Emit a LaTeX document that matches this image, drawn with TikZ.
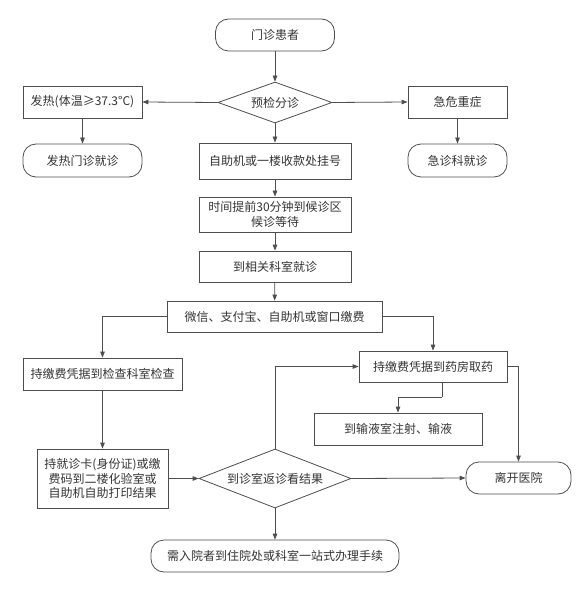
\documentclass[tikz,border=0pt]{standalone}
\usepackage{fontspec}
\setmainfont{Noto Sans CJK SC}
\usetikzlibrary{shapes.geometric,arrows.meta}
\definecolor{linec}{HTML}{4D4D4D}
\definecolor{textc}{HTML}{333333}
\begin{document}
\begin{tikzpicture}[x=1pt,y=-1pt,
  every node/.style={font=\fontsize{12}{14.5}\selectfont, text=textc},
  boxn/.style={draw=linec, line width=0.8pt, rectangle, inner sep=0pt, align=center},
  roundn/.style={boxn, rounded corners=13pt},
  diam/.style={draw=linec, line width=0.8pt, diamond, inner sep=0pt, align=center},
  conn/.style={draw=linec, line width=0.8pt, -{Triangle[length=6pt,width=4.5pt]}},
  plain/.style={draw=linec, line width=0.8pt}
]
\useasboundingbox (0,0) rectangle (586,593);
\node[roundn, minimum width=119, minimum height=32] (start) at (275,35) {门诊患者};
\node[diam, minimum width=114, minimum height=41, aspect=2.8] (triage) at (275,102.5) {预检分诊};
\node[boxn, minimum width=119, minimum height=32] (fever) at (82.5,102) {发热(体温≥37.3°C)};
\node[roundn, minimum width=119, minimum height=33] (feverclinic) at (82.5,160.5) {发热门诊就诊};
\node[boxn, minimum width=152, minimum height=36] (register) at (275,161) {自助机或一楼收款处挂号};
\node[boxn, minimum width=99, minimum height=32] (emerg) at (457.5,102) {急危重症};
\node[roundn, minimum width=99, minimum height=33] (emergclinic) at (457.5,160.5) {急诊科就诊};
\node[boxn, minimum width=152, minimum height=35] (wait) at (275,214.5) {时间提前30分钟到候诊区\\候诊等待};
\node[boxn, minimum width=152, minimum height=31] (dept) at (275,266.5) {到相关科室就诊};
\node[boxn, minimum width=215, minimum height=31] (pay) at (274.5,316.5) {微信、支付宝、自助机或窗口缴费};
\node[boxn, minimum width=159, minimum height=32] (exam) at (102.5,374) {持缴费凭据到检查科室检查};
\node[boxn, minimum width=148, minimum height=31] (pharm) at (433,366.5) {持缴费凭据到药房取药};
\node[boxn, minimum width=168, minimum height=32] (infuse) at (398,429) {到输液室注射、输液};
\node[roundn, minimum width=105, minimum height=32] (leave) at (518.5,478) {离开医院};
\node[diam, minimum width=152, minimum height=59, aspect=2.58] (result) at (275,478.5) {到诊室返诊看结果};
\node[boxn, minimum width=131, minimum height=59] (lab) at (102.5,478.5) {持就诊卡(身份证)或缴\\费码到二楼化验室或\\自助机自助打印结果};
\node[roundn, minimum width=248, minimum height=32] (admit) at (275,556) {需入院者到住院处或科室一站式办理手续};

\coordinate (pharmout) at ([xshift=9pt]pharm.south);
\coordinate (bend) at ([yshift=-15pt]pharmout);

\draw[conn] (start) -- (triage);
\draw[conn] (triage.west) -- (fever.east);
\draw[conn] (triage.east) -- (emerg.west);
\draw[conn] (fever) -- (feverclinic);
\draw[conn] (emerg) -- (emergclinic);
\draw[conn] (triage.south) -- (register.north);
\draw[conn] (register) -- (wait);
\draw[conn] (wait) -- (dept);
\draw[conn] (dept) -- (pay);
\draw[conn] (pay.west) -| (exam.north);
\draw[conn] (pay.east) -| (pharm.north);
\draw[conn] (exam) -- (lab);
\draw[conn] (lab.east) -- (result.west);
\draw[conn] (result.north) |- (pharm.west);
\draw[plain] (pharmout) -- (bend);
\draw[conn] (bend) -| (infuse.north);
\draw[conn] (pharm.east) -| (leave.north);
\draw[conn] (result.east) -- (leave.west);
\draw[conn] (result.south) -- (admit.north);
\end{tikzpicture}
\end{document}
